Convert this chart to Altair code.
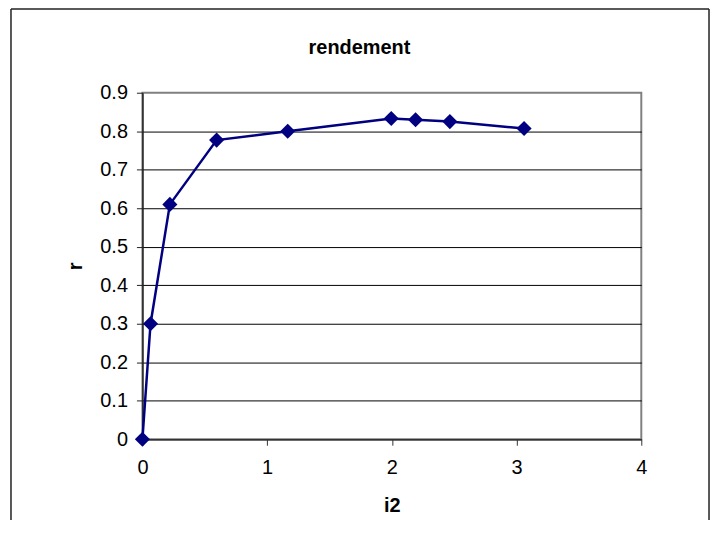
import altair as alt
import pandas as pd

i2 = [0, 0.065, 0.22, 0.595, 1.165, 1.995, 2.19, 2.465, 3.06]
r = [0, 0.30, 0.61, 0.777, 0.80, 0.833, 0.830, 0.825, 0.807]
y_ticks = [0, 0.1, 0.2, 0.3, 0.4, 0.5, 0.6, 0.7, 0.8, 0.9]
x_ticks = [0, 1, 2, 3, 4]
chart_title = "rendement"

df = pd.DataFrame({"i2": i2, "r": r})
FONT = "Liberation Sans"
NAVY = "#000080"
LBL = 20

x_enc = alt.X("i2:Q", scale=alt.Scale(domain=[0, 4], nice=False, zero=False),
              axis=alt.Axis(values=x_ticks, title="i2", grid=False, tickSize=6, format="d",
                            labelFont=FONT, labelFontSize=LBL, labelColor="#000000",
                            labelFlush=False, labelPadding=12, titleY=67, titleBaseline="middle",
                            domainColor="#333333", tickColor="#333333", domainWidth=1.5))
y_enc = alt.Y("r:Q", scale=alt.Scale(domain=[0, 0.9], nice=False),
              axis=alt.Axis(values=y_ticks, title="r", format=".1~f", tickSize=6,
                            labelFont=FONT, labelFontSize=LBL, labelColor="#000000",
                            labelFlush=False, labelPadding=9, titleX=-67, titleY=174,
                            titleBaseline="middle", titleAlign="center", titleAngle=-90,
                            gridColor="#000000", gridWidth=1,
                            gridOpacity={"condition": {"test": "datum.value > 0.85", "value": 0}, "value": 1},
                            domainColor="#222222", tickColor="#222222", domainWidth=1.5))

base = alt.Chart(df).encode(x=x_enc, y=y_enc)
line = base.mark_line(color=NAVY, strokeWidth=2.5)
pts = base.mark_point(shape="diamond", filled=True, size=230, color=NAVY, opacity=1)

border_df = pd.DataFrame({"k": [0]})
bcol = "#222222"
left_b = alt.Chart(border_df).mark_rule(color=bcol, strokeWidth=1.5, clip=False).encode(
    x=alt.value(-132), y=alt.value(-84), y2=alt.value(500))
right_b = alt.Chart(border_df).mark_rule(color=bcol, strokeWidth=1.5, clip=False).encode(
    x=alt.value(569), y=alt.value(-84), y2=alt.value(500))
top_b = alt.Chart(border_df).mark_rule(color=bcol, strokeWidth=1.5, clip=False).encode(
    x=alt.value(-132), x2=alt.value(569), y=alt.value(-84))
title_t = alt.Chart(border_df).mark_text(
    text=chart_title, font=FONT, fontSize=20, fontWeight="bold", color="#000000",
    align="center", baseline="alphabetic", clip=False).encode(
    x=alt.value(218), y=alt.value(-39))

chart = alt.layer(line, pts, left_b, right_b, top_b, title_t).properties(
    width=501, height=348,
    padding={"left": 135, "top": 84, "right": 70, "bottom": 80},
    autosize=alt.AutoSizeParams(type="none"),
).configure_view(stroke="#808080", strokeWidth=2).configure_axis(
    titleFont=FONT, titleFontSize=20, titleFontWeight="bold", titleColor="#000000",
)

chart.save("out.html", embed_options={"renderer": "svg", "actions": False})
